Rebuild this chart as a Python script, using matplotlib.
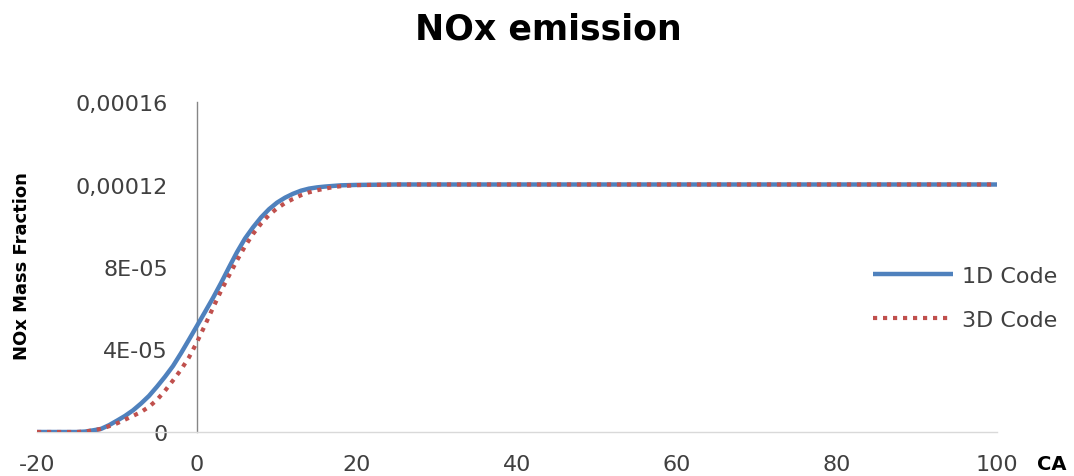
import matplotlib
matplotlib.use("Agg")
import matplotlib.pyplot as plt
from matplotlib.ticker import FixedLocator, FixedFormatter

# crank angle (CA)
ca = [-20, -18, -16, -15, -14, -13, -12, -11, -10, -9, -8, -7, -6, -5, -4, -3, -2, -1,
      0, 1, 2, 3, 4, 5, 6, 7, 8, 9, 10, 11, 12, 13, 14, 15, 16, 17, 18, 20, 25, 100]
# NOx mass fraction, 1D code (units of 1e-5)
nox_1d_e5 = [0, 0, 0, 0, 0.02, 0.08, 0.15, 0.33, 0.55, 0.78, 1.05, 1.38, 1.75, 2.2, 2.68, 3.2, 3.82, 4.48,
             5.15, 5.82, 6.5, 7.22, 7.98, 8.72, 9.38, 9.92, 10.4, 10.8, 11.12, 11.36, 11.55, 11.7, 11.8, 11.86,
             11.9, 11.93, 11.96, 11.98, 12.0, 12.0]
# NOx mass fraction, 3D code (units of 1e-5)
nox_3d_e5 = [0, 0, 0, 0, 0.02, 0.08, 0.15, 0.28, 0.42, 0.6, 0.78, 0.97, 1.22, 1.56, 2.0, 2.5, 3.02, 3.62,
             4.36, 5.18, 6.02, 6.84, 7.58, 8.32, 9.0, 9.6, 10.1, 10.52, 10.84, 11.1, 11.3, 11.48, 11.62, 11.72,
             11.8, 11.87, 11.92, 11.97, 12.0, 12.0]

nox_1d = [v * 1e-5 for v in nox_1d_e5]
nox_3d = [v * 1e-5 for v in nox_3d_e5]

xticks = [-20, 0, 20, 40, 60, 80, 100]
yticks = [0, 4e-5, 8e-5, 1.2e-4, 1.6e-4]
ytick_labels = ["0", "4E-05", "8E-05", "0,00012", "0,00016"]

plt.rcParams['font.family'] = ['DejaVu Sans']
plt.rcParams['axes.unicode_minus'] = False

fig = plt.figure(figsize=(10.74, 4.77), dpi=100)
ax = fig.add_axes([37/1074, 44/477, 960/1074, 330/477])

ax.plot(ca, nox_1d, color="#4F81BD", lw=3.2, label="1D Code", zorder=3,
        solid_capstyle="butt", solid_joinstyle="round")
ax.plot(ca, nox_3d, color="#C0504D", lw=3.0, linestyle=(0, (1, 1.4)), label="3D Code", zorder=4)

ax.set_xlim(-20, 100)
ax.set_ylim(0, 1.6e-4)

ax.xaxis.set_major_locator(FixedLocator(xticks))
ax.yaxis.set_major_locator(FixedLocator(yticks))
ax.yaxis.set_major_formatter(FixedFormatter(ytick_labels))

for s in ["top", "right"]:
    ax.spines[s].set_visible(False)
ax.spines["left"].set_position(("data", 0))
ax.spines["left"].set_color("#868686")
ax.spines["left"].set_linewidth(1.0)
ax.spines["bottom"].set_color("#D9D9D9")
ax.spines["bottom"].set_linewidth(1.0)

ax.tick_params(axis="both", length=0, labelsize=16, colors="#404040")
ax.tick_params(axis="y", pad=21)
ax.tick_params(axis="x", pad=16)

fig.text(548/1074, 1 - 30/477, "NOx emission", ha="center", va="center",
         fontsize=25, fontweight="bold", color="black")
fig.text(22/1074, 1 - 266/477, "NOx Mass Fraction", ha="center", va="center",
         rotation=90, fontsize=13, fontweight="bold", color="black")
fig.text(1052/1074, 1 - 465/477, "CA", ha="center", va="center",
         fontsize=14, fontweight="bold", color="black")

leg = ax.legend(loc="center left", bbox_to_anchor=(873/1074, 1 - 299/477),
                bbox_transform=fig.transFigure, frameon=False, fontsize=16,
                borderpad=0, borderaxespad=0,
                handlelength=3.6, handletextpad=0.4, labelspacing=1.1)
for t in leg.get_texts():
    t.set_color("#404040")

fig.savefig("out.png", dpi=100)
